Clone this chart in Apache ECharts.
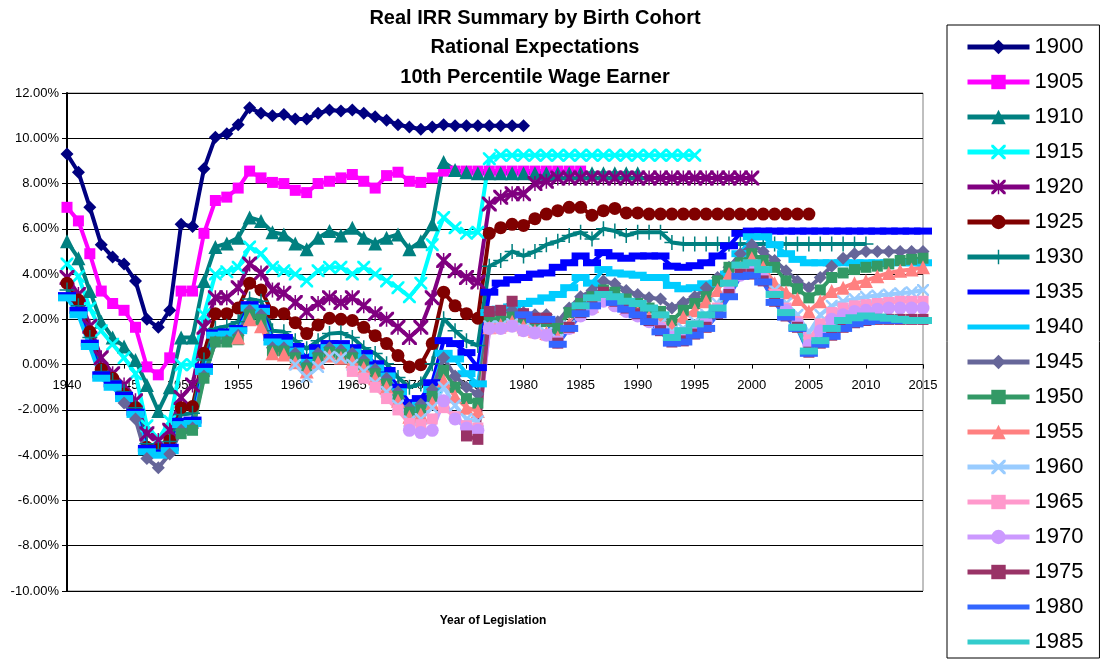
<!DOCTYPE html>
<html lang="en">
<head>
<meta charset="UTF-8">
<title>Real IRR Summary by Birth Cohort</title>
<script src="https://cdn.jsdelivr.net/npm/echarts@6/dist/echarts.min.js"></script>
<style>
  html, body { margin: 0; padding: 0; background: #fff; }
  #chart { width: 1102px; height: 662px; }
</style>
</head>
<body>
<div id="chart"></div>
<script>
// birth cohorts and the first legislation year each one has a value for
var cohorts = ['1900', '1905', '1910', '1915', '1920', '1925', '1930', '1935', '1940',
               '1945', '1950', '1955', '1960', '1965', '1970', '1975', '1980', '1985'];
var startYears = [1940, 1940, 1940, 1940, 1940, 1940, 1940, 1940, 1940,
                  1945, 1950, 1955, 1960, 1965, 1970, 1975, 1980, 1985];

// real IRR in %, one value per year from the start year
var s1900 = [9.3, 8.5, 6.95, 5.3, 4.75, 4.45, 3.7, 2.0, 1.65, 2.4,
  6.2, 6.1, 8.65, 10.05, 10.2, 10.6, 11.35, 11.1, 11.0, 11.05,
  10.85, 10.85, 11.1, 11.25, 11.2, 11.25, 11.1, 10.95, 10.8, 10.6,
  10.5, 10.4, 10.5, 10.6, 10.55, 10.55, 10.55, 10.55, 10.55, 10.55,
  10.55];
var s1905 = [6.95, 6.35, 4.9, 3.25, 2.7, 2.4, 1.65, -0.1, -0.45, 0.3,
  3.25, 3.25, 5.8, 7.25, 7.4, 7.8, 8.55, 8.25, 8.05, 8.0,
  7.7, 7.6, 8.0, 8.1, 8.25, 8.4, 8.1, 7.8, 8.35, 8.5,
  8.1, 8.05, 8.25, 8.55, 8.55, 8.55, 8.55, 8.55, 8.55, 8.55,
  8.55, 8.55, 8.55, 8.55, 8.55, 8.55];
var s1910 = [5.45, 4.7, 3.25, 1.9, 1.2, 0.8, 0.2, -0.9, -2.05, -1.0,
  1.2, 1.2, 3.7, 5.2, 5.35, 5.6, 6.5, 6.35, 5.85, 5.75,
  5.35, 5.1, 5.6, 5.9, 5.7, 6.05, 5.6, 5.35, 5.6, 5.75,
  5.1, 5.45, 6.2, 8.95, 8.6, 8.5, 8.45, 8.45, 8.45, 8.45,
  8.45, 8.45, 8.45, 8.45, 8.45, 8.45, 8.45, 8.45, 8.45, 8.45,
  8.45];
var s1915 = [4.45, 3.9, 2.5, 1.5, 0.9, 0.3, -0.4, -2.7, -3.3, -2.5,
  0.0, 0.0, 2.2, 4.0, 4.1, 4.3, 5.2, 4.9, 4.3, 4.15,
  4.0, 3.7, 4.15, 4.3, 4.3, 4.0, 4.3, 4.0, 3.7, 3.4,
  3.0, 3.6, 5.3, 6.5, 6.05, 5.8, 5.85, 9.1, 9.25, 9.25,
  9.25, 9.25, 9.25, 9.25, 9.25, 9.25, 9.25, 9.25, 9.25, 9.25,
  9.25, 9.25, 9.25, 9.25, 9.25, 9.25];
var s1920 = [3.85, 3.1, 1.7, 0.3, -0.4, -0.9, -1.6, -3.05, -3.35, -2.9,
  -1.45, -0.9, 1.65, 2.95, 2.95, 3.4, 4.45, 4.05, 3.3, 3.15,
  2.75, 2.35, 2.7, 2.95, 2.75, 2.95, 2.6, 2.25, 2.0, 1.65,
  1.2, 1.65, 2.95, 4.6, 4.15, 3.85, 3.65, 7.1, 7.4, 7.55,
  7.55, 8.0, 8.1, 8.25, 8.25, 8.25, 8.25, 8.25, 8.25, 8.25,
  8.25, 8.25, 8.25, 8.25, 8.25, 8.25, 8.25, 8.25, 8.25, 8.25,
  8.25];
var s1925 = [3.6, 2.85, 1.45, -0.2, -0.6, -1.3, -1.9, -3.65, -3.75, -3.35,
  -1.9, -1.85, 0.5, 2.25, 2.25, 2.5, 3.6, 3.3, 2.3, 2.25,
  1.85, 1.37, 1.75, 2.05, 2.0, 1.95, 1.65, 1.28, 0.93, 0.4,
  -0.1, 0.0, 0.93, 3.2, 2.6, 2.25, 2.05, 5.8, 6.05, 6.2,
  6.15, 6.45, 6.65, 6.8, 6.95, 6.95, 6.6, 6.8, 6.9, 6.7,
  6.7, 6.65, 6.65, 6.65, 6.65, 6.65, 6.65, 6.65, 6.65, 6.65,
  6.65, 6.65, 6.65, 6.65, 6.65, 6.65];
var s1930 = [3.3, 2.6, 1.2, -0.3, -0.7, -1.2, -1.9, -3.5, -3.75, -3.4,
  -2.2, -2.15, 0.2, 1.6, 1.7, 1.9, 2.9, 2.8, 1.5, 1.45,
  1.06, 0.7, 1.06, 1.37, 1.41, 1.2, 0.75, 0.49, 0.04, -0.57,
  -1.0, -0.85, 0.04, 2.03, 1.5, 1.06, 0.84, 4.35, 4.6, 5.0,
  4.8, 5.0, 5.3, 5.45, 5.7, 5.85, 5.55, 6.0, 5.9, 5.7,
  5.85, 5.85, 5.85, 5.4, 5.33, 5.33, 5.33, 5.33, 5.33, 5.33,
  5.33, 5.33, 5.33, 5.33, 5.33, 5.33, 5.33, 5.33, 5.33, 5.33,
  5.33];
var s1935 = [3.05, 2.4, 0.95, -0.45, -0.85, -1.35, -2.1, -3.7, -3.9, -3.65,
  -2.5, -2.45, -0.1, 1.4, 1.45, 1.6, 2.65, 2.5, 1.2, 1.2,
  0.8, 0.3, 0.75, 0.93, 0.93, 0.75, 0.49, 0.04, -0.26, -1.0,
  -1.68, -1.5, -0.8, 1.06, 0.93, 0.53, -0.13, 3.2, 3.6, 3.75,
  3.85, 4.0, 4.05, 4.3, 4.5, 4.8, 4.5, 4.95, 4.8, 4.7,
  4.8, 4.8, 4.8, 4.35, 4.3, 4.37, 4.5, 4.8, 5.25, 5.8,
  5.9, 5.9, 5.9, 5.9, 5.9, 5.9, 5.9, 5.9, 5.9, 5.9,
  5.9, 5.9, 5.9, 5.9, 5.9, 5.9];
var s1940 = [2.95, 2.2, 0.8, -0.6, -1.0, -1.5, -2.2, -3.85, -4.0, -3.8,
  -2.65, -2.6, -0.3, 1.3, 1.35, 1.5, 2.5, 2.35, 1.0, 0.95,
  0.6, 0.1, 0.5, 0.75, 0.75, 0.55, 0.3, -0.15, -0.5, -1.2,
  -1.95, -1.8, -1.1, 0.5, 0.25, -0.4, -0.85, 2.3, 2.45, 2.55,
  2.7, 2.8, 2.95, 3.1, 3.4, 3.85, 3.6, 4.2, 4.05, 4.0,
  3.95, 3.85, 3.85, 3.5, 3.35, 3.4, 3.57, 3.6, 4.0, 4.9,
  5.65, 5.65, 5.3, 4.9, 4.65, 4.5, 4.5, 4.5, 4.5, 4.5,
  4.5, 4.5, 4.5, 4.5, 4.5, 4.5];
var s1945 = [-1.7, -2.4, -4.15, -4.55, -3.95, -2.9, -2.8, -0.5, 1.0, 1.05,
  1.3, 2.4, 2.2, 0.75, 0.75, 0.5, 0.0, 0.5, 0.75, 0.65,
  0.5, 0.2, -0.2, -0.6, -1.2, -1.9, -1.75, -1.1, 0.3, -0.5,
  -1.0, -1.3, 2.3, 2.3, 2.4, 2.3, 2.2, 2.2, 1.9, 2.5,
  3.0, 3.27, 3.7, 3.57, 3.27, 3.1, 2.96, 2.9, 2.5, 2.75,
  3.0, 3.4, 3.85, 4.3, 4.9, 5.3, 5.0, 4.6, 4.15, 3.7,
  3.4, 3.85, 4.35, 4.7, 4.9, 5.0, 5.0, 5.0, 5.0, 5.0,
  5.0];
var s1950 = [-3.05, -2.9, -0.6, 1.0, 1.0, 1.1, 2.2, 2.0, 0.6, 0.6,
  0.3, -0.15, 0.3, 0.55, 0.45, 0.3, 0.0, -0.4, -0.85, -1.4,
  -2.1, -2.0, -1.4, -0.25, -1.0, -1.5, -1.7, 2.0, 2.0, 2.1,
  2.0, 1.9, 1.9, 1.6, 2.3, 2.7, 3.0, 3.3, 3.2, 2.9,
  2.7, 2.5, 2.35, 1.95, 2.4, 2.7, 3.0, 3.7, 4.3, 4.5,
  4.9, 4.6, 4.3, 3.7, 3.35, 2.95, 3.3, 3.85, 4.05, 4.2,
  4.3, 4.35, 4.45, 4.6, 4.65, 4.7];
var s1955 = [1.2, 2.0, 1.7, 0.5, 0.45, 0.1, -0.3, 0.1, 0.4, 0.3,
  0.15, -0.15, -0.6, -1.0, -1.6, -2.3, -2.2, -1.7, -0.7, -1.4,
  -1.9, -2.05, 1.65, 1.75, 1.9, 1.7, 1.5, 1.4, 1.2, 1.8,
  2.4, 2.6, 2.9, 2.8, 2.5, 2.3, 2.1, 2.0, 1.7, 2.1,
  2.4, 2.8, 3.3, 4.0, 4.3, 4.7, 4.3, 3.6, 3.2, 2.9,
  2.35, 2.8, 3.25, 3.4, 3.6, 3.7, 3.9, 4.05, 4.15, 4.2,
  4.3];
var s1960 = [0.0, -0.55, -0.1, 0.35, 0.3, 0.0, -0.3, -0.8, -1.2, -1.8,
  -2.5, -2.4, -1.9, -1.0, -1.8, -2.4, -2.5, 1.7, 1.7, 1.8,
  1.6, 1.5, 1.4, 1.1, 1.7, 2.3, 2.6, 2.9, 2.7, 2.5,
  2.3, 2.05, 1.8, 1.45, 1.6, 1.9, 2.2, 2.7, 3.5, 4.1,
  4.3, 4.0, 3.3, 2.7, 2.2, 1.4, 2.2, 2.6, 2.8, 2.9,
  3.0, 3.05, 3.1, 3.15, 3.2, 3.3];
var s1965 = [-0.3, -0.6, -1.0, -1.5, -2.0, -2.6, -2.65, -2.4, -1.9, -2.3,
  -2.7, -2.8, 1.6, 1.6, 1.7, 1.5, 1.4, 1.3, 1.0, 1.6,
  2.2, 2.5, 2.85, 2.65, 2.4, 2.2, 1.95, 1.65, 1.25, 1.4,
  1.7, 2.0, 2.5, 3.3, 4.0, 4.2, 3.9, 3.1, 2.5, 1.9,
  1.1, 1.8, 2.3, 2.5, 2.6, 2.65, 2.7, 2.75, 2.8, 2.8,
  2.8];
var s1970 = [-2.9, -3.0, -2.9, -1.6, -2.4, -2.8, -2.9, 1.6, 1.6, 1.7,
  1.5, 1.4, 1.3, 1.0, 1.6, 2.15, 2.45, 2.8, 2.6, 2.35,
  2.15, 1.9, 1.6, 1.2, 1.3, 1.6, 1.9, 2.4, 3.2, 3.95,
  4.1, 3.8, 3.0, 2.4, 1.8, 0.85, 1.5, 2.0, 2.2, 2.35,
  2.4, 2.45, 2.5, 2.5, 2.5, 2.5];
var s1975 = [-3.15, -3.3, 2.35, 2.4, 2.8, 2.25, 2.05, 2.05, 0.95, 1.65,
  2.3, 2.7, 3.2, 2.8, 2.5, 2.25, 1.95, 1.5, 1.0, 1.05,
  1.35, 1.65, 2.25, 3.1, 4.0, 4.0, 3.7, 2.8, 2.15, 1.65,
  0.55, 0.95, 1.3, 1.65, 1.85, 1.95, 2.0, 2.0, 2.0, 2.0,
  2.0];
var s1980 = [2.2, 2.0, 2.0, 0.9, 1.6, 2.25, 2.6, 3.1, 2.75, 2.45,
  2.2, 1.9, 1.45, 0.95, 1.0, 1.3, 1.6, 2.2, 3.0, 3.9,
  3.95, 3.65, 2.75, 2.1, 1.6, 0.5, 0.9, 1.25, 1.6, 1.8,
  1.9, 1.95, 1.95, 1.95, 1.95, 1.95];
var s1985 = [2.6, 2.95, 3.1, 3.0, 2.8, 2.7, 2.5, 2.2, 1.2, 1.5,
  1.8, 2.2, 2.5, 3.6, 4.4, 4.5, 4.2, 3.1, 2.3, 1.65,
  0.6, 1.06, 1.6, 1.95, 2.07, 2.15, 2.1, 2.05, 2.0, 1.95,
  1.95];

var allValues = [s1900, s1905, s1910, s1915, s1920, s1925, s1930, s1935, s1940,
                 s1945, s1950, s1955, s1960, s1965, s1970, s1975, s1980, s1985];

// y axis ticks in %
var yMin = -10, yMax = 12, yStep = 2;

var colors = ['#000080', '#FF00FF', '#008080', '#00FFFF', '#800080', '#800000', '#008080', '#0000FF', '#00CCFF',
              '#666699', '#339966', '#FF8080', '#99CCFF', '#FF99CC', '#CC99FF', '#993366', '#3366FF', '#33CCCC'];

// excel style markers
var xMark = 'path://M0,0 L3,0 L10,7 L17,0 L20,0 L20,3 L13,10 L20,17 L20,20 L17,20 L10,13 L3,20 L0,20 L0,17 L7,10 L0,3 Z';
var starMark = 'path://M0,0 L3,0 L10,7 L17,0 L20,0 L20,3 L13,10 L20,17 L20,20 L17,20 L10,13 L3,20 L0,20 L0,17 L7,10 L0,3 Z M9,0 L11,0 L11,20 L9,20 Z';
var plusMark = 'path://M9,0 L11,0 L11,9 L20,9 L20,11 L11,11 L11,20 L9,20 L9,11 L0,11 L0,9 L9,9 Z';

var symbols = ['diamond', 'rect', 'triangle', xMark, starMark, 'circle', plusMark, 'rect', 'rect',
               'diamond', 'rect', 'triangle', xMark, 'rect', 'circle', 'rect', 'rect', 'rect'];
var dash = [18, 7];
var symbolSizes = [13, 11, 14, 13, 15, 13, 15, dash, dash,
                   13, 11, 14, 12, 11, 13, 11, dash, dash];
// series drawn with a plain line in the legend
var plainLegend = ['1935', '1940', '1980', '1985'];

var chart = echarts.init(document.getElementById('chart'));

var series = cohorts.map(function (name, i) {
    var pts = allValues[i].map(function (v, k) {
        return [startYears[i] + k, v];
    });
    return {
        name: name,
        type: 'line',
        data: pts,
        symbol: symbols[i],
        symbolSize: symbolSizes[i],
        showAllSymbol: true,
        lineStyle: { color: colors[i], width: 4 },
        itemStyle: { color: colors[i] },
        emphasis: { disabled: true }
    };
});

var legendData = cohorts.map(function (name) {
    if (plainLegend.indexOf(name) >= 0) {
        return { name: name, itemStyle: { opacity: 0 } };
    }
    return { name: name };
});

var option = {
    animation: false,
    backgroundColor: '#fff',
    textStyle: { fontFamily: 'Arial, "Liberation Sans", sans-serif' },
    grid: {
        left: 67, right: 179, top: 93, bottom: 71,
        show: true, borderColor: '#808080', borderWidth: 1
    },
    xAxis: {
        type: 'value',
        min: 1940, max: 2015, interval: 5,
        offset: -226.4, // sits on the 0% line
        axisLine: { onZero: false, lineStyle: { color: '#000', width: 1 } },
        axisTick: { show: true, length: 4, lineStyle: { color: '#000' } },
        axisLabel: { color: '#000', fontSize: 13, margin: 14, formatter: function (v) { return String(v); } },
        splitLine: { show: false }
    },
    yAxis: {
        type: 'value',
        min: yMin, max: yMax, interval: yStep,
        axisLine: { show: true, onZero: false, lineStyle: { color: '#000', width: 2 } },
        axisTick: { show: true, length: 5, lineStyle: { color: '#000' } },
        axisLabel: { color: '#000', fontSize: 13, margin: 8, formatter: function (v) { return v.toFixed(2) + '%'; } },
        splitLine: { show: true, lineStyle: { color: '#000', width: 1 } }
    },
    legend: {
        orient: 'vertical',
        left: 947, top: 25,
        padding: [11, 16, 5, 18],
        itemWidth: 62, itemHeight: 18, itemGap: 13,
        borderColor: '#000', borderWidth: 1,
        lineStyle: { width: 5 },
        textStyle: { fontSize: 22, color: '#000', lineHeight: 22 },
        data: legendData
    },
    graphic: [
        { type: 'text', x: 535, y: 18, style: { text: 'Real IRR Summary by Birth Cohort', font: 'bold 20px Arial', textAlign: 'center', textVerticalAlign: 'middle', fill: '#000' } },
        { type: 'text', x: 535, y: 47, style: { text: 'Rational Expectations', font: 'bold 20px Arial', textAlign: 'center', textVerticalAlign: 'middle', fill: '#000' } },
        { type: 'text', x: 535, y: 77, style: { text: '10th Percentile Wage Earner', font: 'bold 20px Arial', textAlign: 'center', textVerticalAlign: 'middle', fill: '#000' } },
        { type: 'text', x: 493, y: 621, style: { text: 'Year of Legislation', font: 'bold 12px Arial', textAlign: 'center', textVerticalAlign: 'middle', fill: '#000' } }
    ],
    series: series
};

chart.setOption(option);
</script>
</body>
</html>
